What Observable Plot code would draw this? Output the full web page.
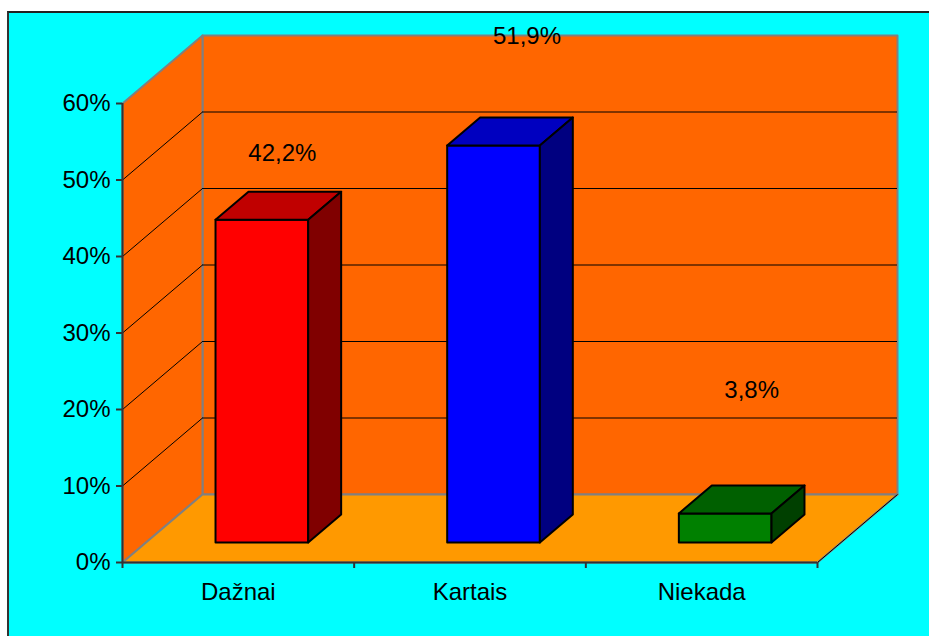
<!DOCTYPE html>
<html>
<head>
<meta charset="utf-8">
<script src="https://cdn.jsdelivr.net/npm/d3@7"></script>
<script src="https://cdn.jsdelivr.net/npm/@observablehq/plot@0.6"></script>
<style>
  body { margin: 0; background: #ffffff; }
  #chart { position: absolute; left: 7px; top: 11px; width: 920px; height: 623px;
           border-left: 2px solid #333; border-top: 2px solid #222; background: #00FFFF; }
  #chart svg { display: block; }
</style>
</head>
<body>
<div id="chart"></div>
<script>
const categories = ["Dažnai", "Kartais", "Niekada"];
const values = [42.2, 51.9, 3.8];
const yTicks = [0, 10, 20, 30, 40, 50, 60];
const frontColors = ["#FF0000", "#0000FF", "#008000"];
const topColors = ["#C00000", "#0000C0", "#006000"];
const sideColors = ["#800000", "#000080", "#004000"];

// layout
const W = 920, H = 623;
const mL = 113, mR = 112, mT = 90, mB = 74;
const pxPerX = (W - mL - mR) / 3;
const pxPerY = (H - mT - mB) / 60;
const DX = 80 / pxPerX;       // full depth, x units
const DY = 68 / pxPerY;       // full depth, y units
const d0 = 0.294, d1 = 0.706, hw = 0.2;
const P = (c, v, d, id, fill) => ({ x: c + d * DX, y: v + d * DY, id, fill });

// walls
const walls = [
  P(0, 0, 1, "back", "#FF6600"), P(3, 0, 1, "back", "#FF6600"), P(3, 60, 1, "back", "#FF6600"), P(0, 60, 1, "back", "#FF6600"),
  P(0, 0, 0, "left", "#FF6600"), P(0, 60, 0, "left", "#FF6600"), P(0, 60, 1, "left", "#FF6600"), P(0, 0, 1, "left", "#FF6600"),
  P(0, 0, 0, "floor", "#FF9900"), P(3, 0, 0, "floor", "#FF9900"), P(3, 0, 1, "floor", "#FF9900"), P(0, 0, 1, "floor", "#FF9900")
];

// bars
const faces = [];
values.forEach((v, i) => {
  const c = i + 0.5;
  faces.push(P(c - hw, 0, d0, "f" + i, frontColors[i]), P(c + hw, 0, d0, "f" + i, frontColors[i]),
             P(c + hw, v, d0, "f" + i, frontColors[i]), P(c - hw, v, d0, "f" + i, frontColors[i]));
  faces.push(P(c - hw, v, d0, "t" + i, topColors[i]), P(c + hw, v, d0, "t" + i, topColors[i]),
             P(c + hw, v, d1, "t" + i, topColors[i]), P(c - hw, v, d1, "t" + i, topColors[i]));
  faces.push(P(c + hw, 0, d0, "s" + i, sideColors[i]), P(c + hw, 0, d1, "s" + i, sideColors[i]),
             P(c + hw, v, d1, "s" + i, sideColors[i]), P(c + hw, v, d0, "s" + i, sideColors[i]));
});

const grid = yTicks.filter(t => t > 0 && t < 60);
const labelShiftPx = [[4, -52], [17, -95], [10, -109]];
const fmt = v => v.toFixed(1).replace(".", ",") + "%";

const plot = Plot.plot({
  width: W, height: H,
  marginLeft: mL, marginRight: mR, marginTop: mT, marginBottom: mB,
  style: { background: "transparent", color: "black", fontFamily: "'Liberation Sans', Arial, sans-serif" },
  x: { domain: [0, 3], axis: null },
  y: { domain: [0, 60], axis: null },
  color: { type: "identity" },
  marks: [
    Plot.line(walls, { x: "x", y: "y", z: "id", fill: "fill", stroke: "#808080", strokeWidth: 2, curve: "linear-closed" }),
    Plot.ruleY(grid, { y: d => d + DY, x1: DX, x2: 3 + DX, stroke: "black", strokeWidth: 1 }),
    Plot.link(grid, { x1: 0, y1: d => d, x2: DX, y2: d => d + DY, stroke: "black", strokeWidth: 1 }),
    Plot.link([0], { x1: 3, y1: 0, x2: 3 + DX, y2: DY, stroke: "black", strokeWidth: 1 }),
    Plot.ruleX([0], { y1: 0, y2: 60, stroke: "#333", strokeWidth: 2 }),
    Plot.ruleY([0], { x1: 0, x2: 3, stroke: "#333", strokeWidth: 2 }),
    Plot.axisY({ ticks: yTicks, tickFormat: d => d + "%", tickSize: 6, tickPadding: 6, fontSize: 24, stroke: "#333", strokeWidth: 2, label: null }),
    Plot.axisX({ ticks: [0, 1, 2, 3], tickFormat: () => "", tickSize: 6, stroke: "#333", strokeWidth: 2, label: null }),
    Plot.axisX({ ticks: [0.5, 1.5, 2.5], tickFormat: d => categories[Math.floor(d)], tickSize: 0, tickPadding: 20, fontSize: 24, label: null }),
    Plot.line(faces, { x: "x", y: "y", z: "id", fill: "fill", stroke: "black", strokeWidth: 2, curve: "linear-closed" }),
    Plot.text(values, {
      x: (d, i) => i + 0.5 + 0.5 * DX + labelShiftPx[i][0] / pxPerX,
      y: (d, i) => d + 0.5 * DY - labelShiftPx[i][1] / pxPerY,
      text: d => fmt(d), fontSize: 24, fill: "black"
    })
  ]
});
document.getElementById("chart").appendChild(plot);
</script>
</body>
</html>
